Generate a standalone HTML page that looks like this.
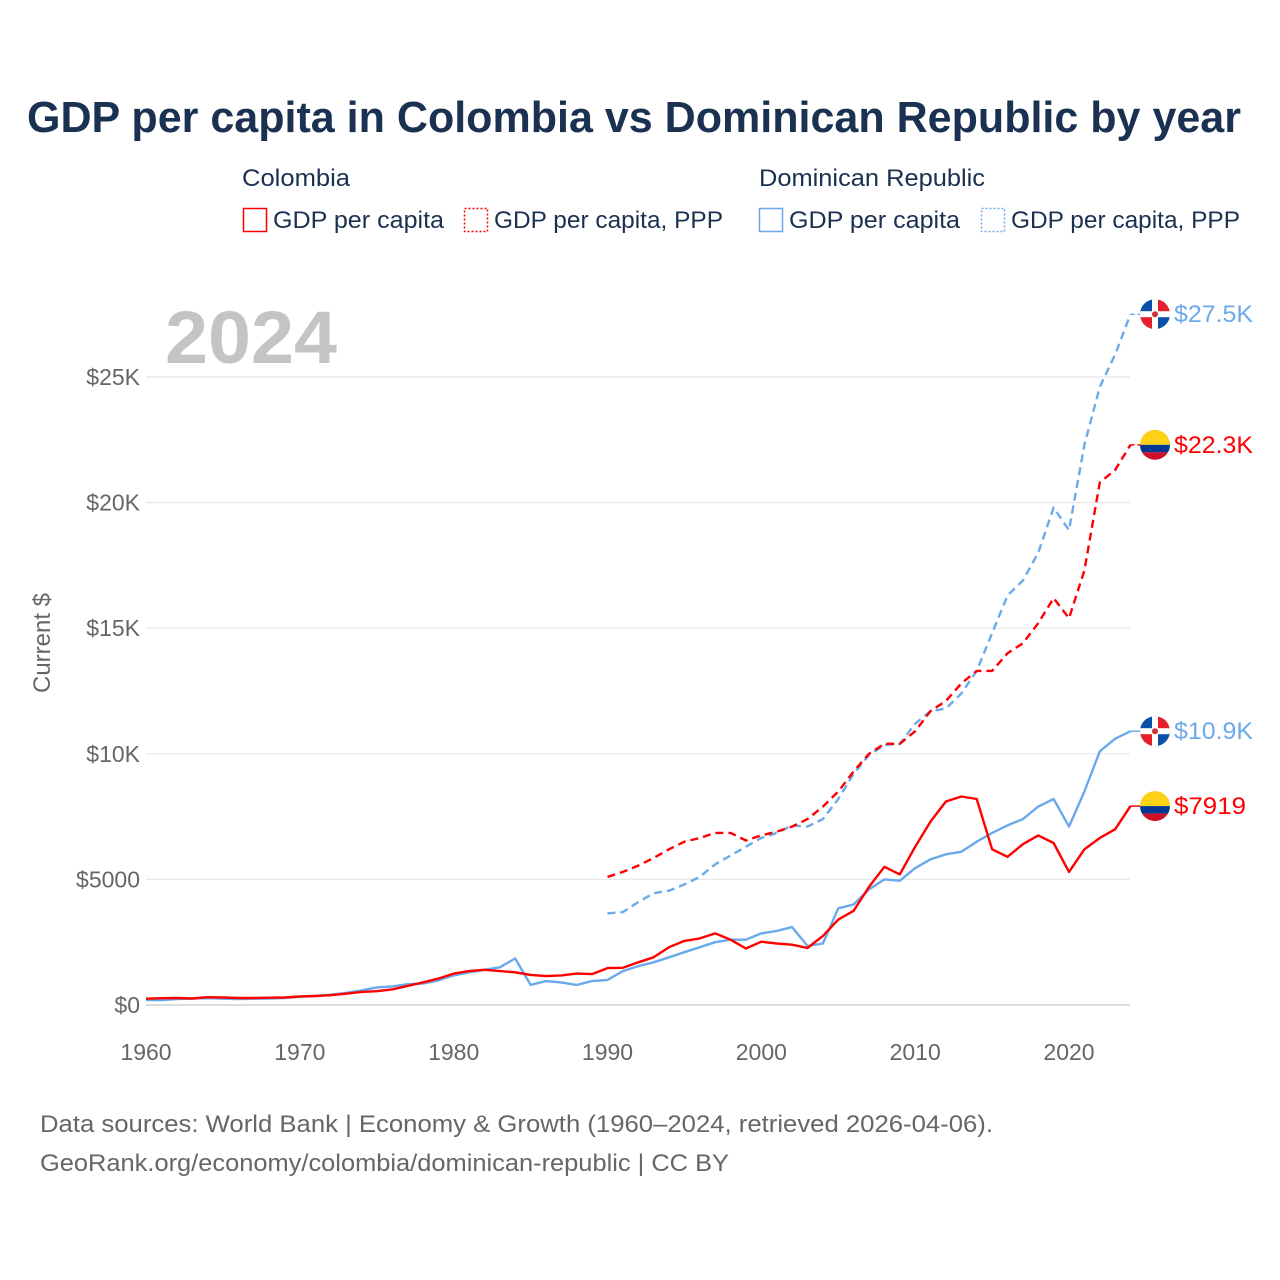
<!DOCTYPE html>
<html><head><meta charset="utf-8"><style>
html,body{margin:0;padding:0;background:#fff}
svg{display:block;font-family:"Liberation Sans",sans-serif}
</style></head><body>
<svg id="chart" width="1280" height="1280" viewBox="0 0 1280 1280">
<text x="634" y="132" text-anchor="middle" font-size="44" font-weight="bold" fill="#1b3152" textLength="1214" lengthAdjust="spacingAndGlyphs">GDP per capita in Colombia vs Dominican Republic by year</text>
<g font-size="24" fill="#1b3152">
<text x="242" y="186" textLength="108" lengthAdjust="spacingAndGlyphs">Colombia</text>
<text x="759" y="186" textLength="226" lengthAdjust="spacingAndGlyphs">Dominican Republic</text>
<g><rect x="243.5" y="208.5" width="23" height="23" fill="none" stroke="#ff0000" stroke-width="1.5"/><text x="273" y="228" textLength="171" lengthAdjust="spacingAndGlyphs">GDP per capita</text></g>
<g><rect x="464.5" y="208.5" width="23" height="23" fill="none" stroke="#ff0000" stroke-width="1.5" stroke-dasharray="2 2"/><text x="494" y="228" textLength="229" lengthAdjust="spacingAndGlyphs">GDP per capita, PPP</text></g>
<g><rect x="759.5" y="208.5" width="23" height="23" fill="none" stroke="#6aaaea" stroke-width="1.5"/><text x="789" y="228" textLength="171" lengthAdjust="spacingAndGlyphs">GDP per capita</text></g>
<g><rect x="981.5" y="208.5" width="23" height="23" fill="none" stroke="#6aaaea" stroke-width="1.5" stroke-dasharray="2 2"/><text x="1011" y="228" textLength="229" lengthAdjust="spacingAndGlyphs">GDP per capita, PPP</text></g>
</g>
<text x="165" y="363" font-size="74" font-weight="bold" fill="#c4c4c4" textLength="172" lengthAdjust="spacingAndGlyphs">2024</text>
<text transform="translate(50,643) rotate(-90)" text-anchor="middle" font-size="24" fill="#666">Current $</text>
<g id="grid"></g>
<g id="yticks"></g>
<g id="xticks"></g>
<g id="series"></g>
<g id="ends"></g>
<text x="40" y="1132" font-size="24" fill="#666" textLength="953" lengthAdjust="spacingAndGlyphs">Data sources: World Bank | Economy &amp; Growth (1960–2024, retrieved 2026-04-06).</text>
<text x="40" y="1171" font-size="24" fill="#666" textLength="689" lengthAdjust="spacingAndGlyphs">GeoRank.org/economy/colombia/dominican-republic | CC BY</text>
</svg>
<script>
const years = []; for (let y = 1960; y <= 2024; y++) years.push(y);
const yTicks = [0, 5000, 10000, 15000, 20000, 25000];
const yTickLabels = ["$0", "$5000", "$10K", "$15K", "$20K", "$25K"];
const xTicks = [1960, 1970, 1980, 1990, 2000, 2010, 2020];
const colGdp = [250,270,280,260,310,300,280,280,290,300,340,360,390,450,520,550,620,760,900,1050,1250,1350,1400,1350,1300,1200,1150,1180,1250,1230,1470,1480,1700,1900,2300,2550,2650,2850,2600,2250,2520,2450,2400,2270,2750,3400,3750,4700,5500,5200,6300,7300,8100,8300,8200,6200,5900,6400,6750,6450,5300,6200,6650,7000,7919];
const drGdp = [200,190,240,260,270,250,240,250,260,280,330,360,410,480,580,700,740,830,850,980,1180,1300,1400,1500,1850,800,950,900,800,950,1000,1350,1550,1700,1900,2100,2300,2500,2600,2600,2850,2950,3100,2350,2450,3850,4000,4600,5000,4950,5450,5800,6000,6100,6500,6850,7150,7400,7900,8200,7100,8500,10100,10600,10900];
const pppYears = []; for (let y = 1990; y <= 2024; y++) pppYears.push(y);
const colPpp = [5100,5300,5550,5850,6200,6500,6650,6850,6850,6550,6750,6900,7100,7400,7900,8500,9300,10000,10400,10400,10900,11700,12100,12800,13300,13300,14000,14400,15200,16200,15400,17300,20800,21300,22300];
const drPpp = [3650,3700,4100,4450,4550,4800,5100,5600,5950,6300,6650,6850,7150,7100,7400,8200,9200,9950,10350,10400,11200,11700,11800,12400,13300,14800,16300,16900,18000,19800,18900,22300,24600,25900,27500];
const endLabels = ["$27.5K", "$22.3K", "$10.9K", "$7919"];

const NS = "http://www.w3.org/2000/svg";
const X = yr => 146 + (yr - 1960) * (923 / 60);
const Y = v => 1005 - v * (628 / 25000);
function mk(tag, attrs, parent) { const e = document.createElementNS(NS, tag); for (const k in attrs) e.setAttribute(k, attrs[k]); parent.appendChild(e); return e; }

const grid = document.getElementById('grid'), yt = document.getElementById('yticks'), xt = document.getElementById('xticks');
yTicks.forEach((v, i) => {
  const l = mk('line', {x1: 146, x2: 1130, y1: Y(v), y2: Y(v), stroke: i === 0 ? '#dcdcdc' : '#e8e8e8', 'stroke-width': i === 0 ? 2 : 1.2}, grid);
  
  
  const t = mk('text', {x: 140, y: Y(v) + 8, 'text-anchor': 'end', 'font-size': 23, fill: '#666'}, yt);
  t.textContent = yTickLabels[i];
  
  
});
xTicks.forEach(yr => {
  const t = mk('text', {x: X(yr), y: 1060, 'text-anchor': 'middle', 'font-size': 23, fill: '#666'}, xt);
  t.textContent = yr;
  
  
});

const ser = document.getElementById('series');
function line(xs, vals, color, dash, name) {
  const d = vals.map((v, i) => (i ? 'L' : 'M') + X(xs[i]).toFixed(1) + ',' + Y(v).toFixed(1)).join(' ');
  const p = mk('path', {d, fill: 'none', stroke: color, 'stroke-width': 2.4, 'stroke-linejoin': 'round', 'stroke-dasharray': dash || 'none'}, ser);
  
  
}
line(pppYears, drPpp, '#6aaaea', '8 5', 'line-dr-gdp-ppp');
line(pppYears, colPpp, '#ff0000', '8 5', 'line-colombia-gdp-ppp');
line(years, drGdp, '#6aaaea', '', 'line-dr-gdp');
line(years, colGdp, '#ff0000', '', 'line-colombia-gdp');

const ends = document.getElementById('ends');
const endVals = [drPpp[drPpp.length - 1], colPpp[colPpp.length - 1], drGdp[drGdp.length - 1], colGdp[colGdp.length - 1]];
const endCols = ['#6aaaea', '#ff0000', '#6aaaea', '#ff0000'];
const endFlags = ['dr', 'co', 'dr', 'co'];
endVals.forEach((v, i) => {
  const y = Y(v), cx = 1155;
  const g = mk('g', {}, ends);
  
  
  mk('line', {x1: X(2024), x2: cx - 14, y1: y, y2: y, stroke: endCols[i], 'stroke-width': 1.5, 'stroke-dasharray': i < 2 ? '4 3' : 'none'}, g);
  const id = 'clip' + i;
  const cp = mk('clipPath', {id}, g); mk('circle', {cx, cy: y, r: 15}, cp);
  const f = mk('g', {'clip-path': 'url(#' + id + ')'}, g);
  
  
  if (endFlags[i] === 'co') {
    mk('rect', {x: cx - 15, y: y - 15, width: 30, height: 15, fill: '#fcd116'}, f);
    mk('rect', {x: cx - 15, y: y, width: 30, height: 7.5, fill: '#003893'}, f);
    mk('rect', {x: cx - 15, y: y + 7.5, width: 30, height: 7.5, fill: '#ce1126'}, f);
  } else {
    mk('rect', {x: cx - 15, y: y - 15, width: 15, height: 15, fill: '#0a4fa8'}, f);
    mk('rect', {x: cx, y: y - 15, width: 15, height: 15, fill: '#e5202c'}, f);
    mk('rect', {x: cx - 15, y: y, width: 15, height: 15, fill: '#e5202c'}, f);
    mk('rect', {x: cx, y: y, width: 15, height: 15, fill: '#0a4fa8'}, f);
    mk('rect', {x: cx - 3, y: y - 15, width: 6, height: 30, fill: '#fff'}, f);
    mk('rect', {x: cx - 15, y: y - 3, width: 30, height: 6, fill: '#fff'}, f);
    mk('circle', {cx, cy: y, r: 3, fill: '#c33'}, f);
  }
  const t = mk('text', {x: 1174, y: y + 8, 'font-size': 24, fill: endCols[i], textLength: endLabels[i].length > 5 ? 79 : 72, lengthAdjust: 'spacingAndGlyphs'}, g);
  t.textContent = endLabels[i];
});
</script>
</body></html>
